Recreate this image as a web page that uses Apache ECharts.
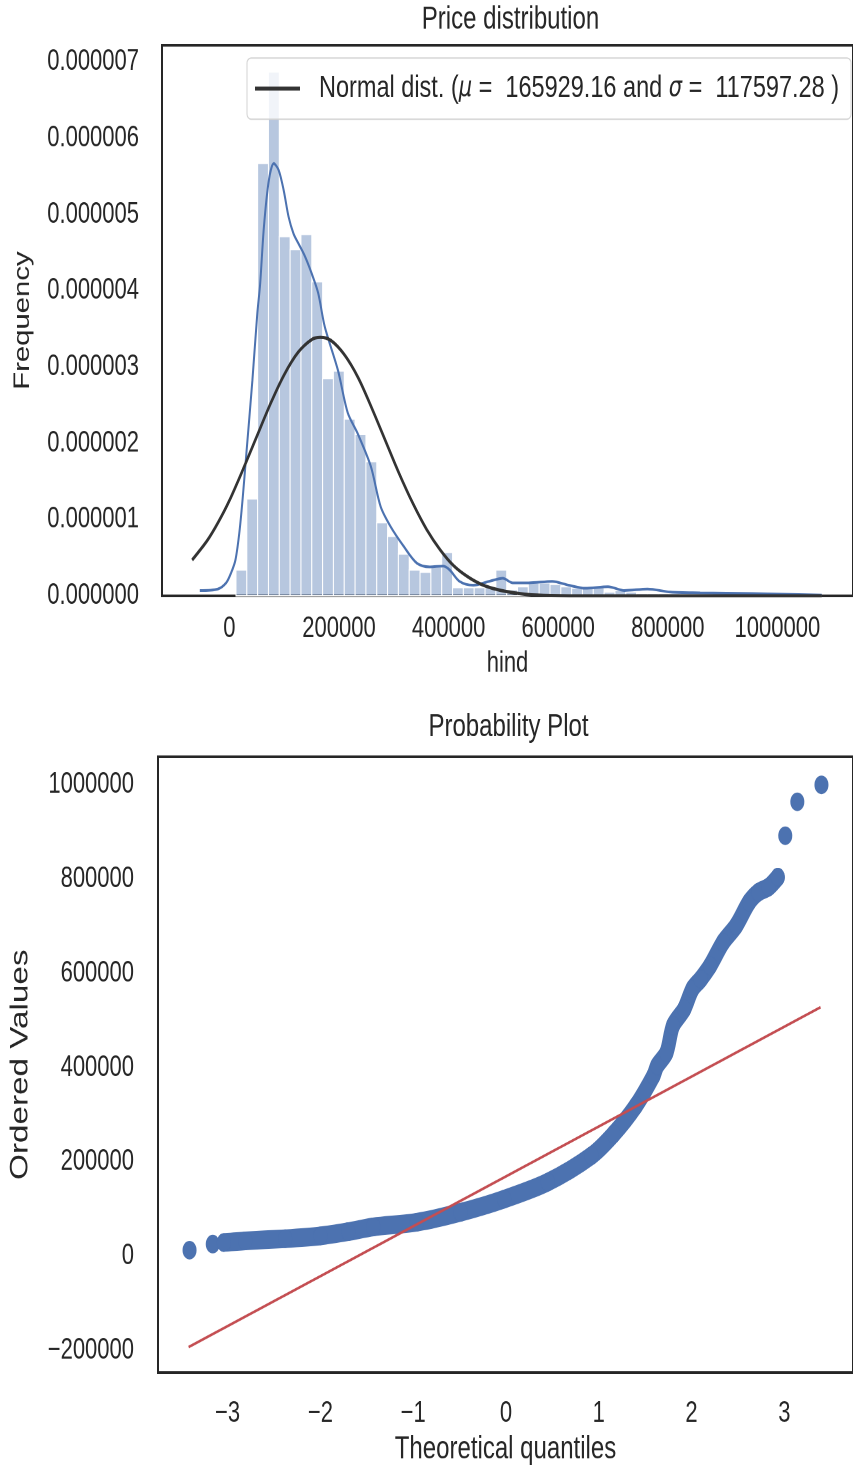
<!DOCTYPE html>
<html><head><meta charset="utf-8">
<style>
html,body{margin:0;padding:0;background:#fff;overflow:hidden;}
#wrap{width:853px;height:1467px;overflow:hidden;}
#chart{width:853px;height:1103px;transform:scaleY(1.33);transform-origin:0 0;}
</style>
<script src="https://cdn.jsdelivr.net/npm/echarts@6/dist/echarts.min.js"></script>
</head><body><div id="wrap"><div id="chart"></div></div>
<script>
// ---------------- data ----------------
const mu = 165929.16;
const sigma = 117597.28;

// histogram (density, x1e-6), 50 bins
const histBinStart = 12000;
const histBinWidth = 19760;
const histDensity = [0.34,1.27,5.67,6.87,4.71,4.54,4.74,4.12,2.85,2.95,
  2.32,2.12,1.76,0.96,0.78,0.55,0.34,0.31,0.38,0.57,
  0.11,0.11,0.11,0.11,0.34,0.08,0.12,0.17,0.17,0.15,
  0.12,0.10,0.10,0.12,0.05,0.07,0.05,0.03,0.03,0.03,
  0.03,0,0,0,0.03,0,0,0,0.03,0.03];

// KDE curve (x, density x1e-6)
const kdeX = [-54000,-21000,-6000,3000,11000,18000,24000,31000,42000,51000,56000,63000,72000,81000,90000,99000,108000,117000,126000,138000,150000,162000,174000,198000,216000,234000,258000,276000,294000,318000,342000,366000,390000,402000,420000,445000,474000,499000,517000,546000,589000,619000,649000,691000,721000,763000,805000,859000,955000,1081000];
const kdeY = [0.07,0.09,0.17,0.30,0.47,0.82,1.26,1.87,2.83,3.71,4.08,4.84,5.45,5.67,5.58,5.32,4.97,4.75,4.62,4.45,4.23,3.97,3.53,2.96,2.40,2.13,1.70,1.17,0.91,0.65,0.43,0.38,0.39,0.34,0.19,0.14,0.19,0.23,0.17,0.17,0.19,0.14,0.10,0.12,0.07,0.09,0.05,0.04,0.03,0.01];

// fitted normal curve (x, density x1e-6)
const normX = [-68000,-40000,-20000,0,25000,50000,75000,100000,125000,150000,166000,185000,210000,235000,260000,285000,310000,335000,360000,385000,410000,435000,460000,490000,520000,560000,620000,700000,850000,1081000];
const normY = [0.47,0.73,0.97,1.25,1.66,2.09,2.52,2.90,3.19,3.36,3.39,3.35,3.16,2.86,2.46,2.03,1.60,1.21,0.87,0.60,0.39,0.25,0.15,0.08,0.04,0.01,0,0,0,0];

const histXTicks = [0,200000,400000,600000,800000,1000000];
const histYTicks = [0,0.000001,0.000002,0.000003,0.000004,0.000005,0.000006,0.000007];

// probability plot
const qqQuantiles = [-3.41,-3.16,-3.04,-2.81,-2.38,-2.0,-1.7,-1.43,-0.96,-0.49,-0.02,0.45,0.92,1.16,1.40,1.59,1.63,1.73,1.80,1.92,2.01,2.10,2.20,2.34,2.48,2.62,2.72,2.83,2.93,3.01,3.14,3.40];
const qqValues = [12700,25500,29000,32500,37000,43000,52000,62000,72000,93000,121000,157000,213000,259000,319000,383000,404000,432000,489000,524000,567000,588000,616000,666000,701000,751000,772000,783000,804000,892000,964000,1000000];
const qqLineX = [-3.42, 3.39];
const qqLineY = [-193000, 528000];
const qqXTicks = [-3,-2,-1,0,1,2,3];
const qqYTicks = [-200000,0,200000,400000,600000,800000,1000000];

// ---------------- chart ----------------
const FONT = "'Liberation Sans', Arial, sans-serif";
const TXT = '#262626';
const BLUE = '#4c72b0';
const minus = v => (v < 0 ? '\u2212' + Math.abs(v) : String(v));

const histData = histDensity.map((d, i) => [histBinStart + i * histBinWidth, histBinStart + (i + 1) * histBinWidth, d * 1e-6]);
const kdeData = kdeX.map((x, i) => [x, kdeY[i] * 1e-6]);
const normData = normX.map((x, i) => [x, normY[i] * 1e-6]);
const qqPts = qqQuantiles.map((q, i) => [q, qqValues[i]]);
const qqBand = qqPts.filter(p => p[0] >= -3.05 && p[0] <= 2.95);
const qqLine = qqLineX.map((x, i) => [x, qqLineY[i]]);

const chart = echarts.init(document.getElementById('chart'), null, {renderer: 'canvas', devicePixelRatio: 2});

const axisCommon = {
  axisLine: {show: false}, axisTick: {show: false}, splitLine: {show: false},
  nameTextStyle: {fontFamily: FONT, fontSize: 22, color: TXT}
};

chart.setOption({
  animation: false,
  backgroundColor: '#fff',
  textStyle: {fontFamily: FONT},
  title: [
    {text: 'Price distribution', left: 510.5, top: 3, textAlign: 'center', padding: 0,
     textStyle: {fontFamily: FONT, fontSize: 24, fontWeight: 'normal', color: TXT}},
    {text: 'Probability Plot', left: 508.5, top: 535, textAlign: 'center', padding: 0,
     textStyle: {fontFamily: FONT, fontSize: 24, fontWeight: 'normal', color: TXT}}
  ],
  legend: {
    data: [{name: 'normal', icon: 'rect'}],
    left: 247, top: 43.6,
    orient: 'horizontal',
    padding: [11, 12, 11, 8],
    itemWidth: 45, itemHeight: 3,
    itemStyle: {color: '#333333', borderWidth: 0},
    backgroundColor: 'rgba(255,255,255,0.8)',
    borderColor: '#d3d3d3', borderWidth: 1, borderRadius: 4,
    formatter: () => `{s|}Normal dist. ({m|\u03bc} =  ${mu.toFixed(2)} and {m|\u03c3} =  ${sigma.toFixed(2)} )`,
    textStyle: {fontFamily: FONT, fontSize: 23.5, color: TXT,
      rich: {s: {width: 14}, m: {fontFamily: "'DejaVu Sans', sans-serif", fontStyle: 'italic', fontSize: 21, color: TXT}}}
  },
  grid: [
    {left: 162, top: 34, height: 414, right: -6, show: true, borderColor: '#262626', borderWidth: 2, backgroundColor: 'transparent'},
    {left: 155, top: 569, height: 463, right: -9, show: true, borderColor: '#262626', borderWidth: 2, backgroundColor: 'transparent'}
  ],
  xAxis: [
    Object.assign({}, axisCommon, {type: 'value', gridIndex: 0, min: -123000, max: 1138000,
      name: 'hind', nameLocation: 'middle', nameGap: 40,
      axisLabel: {customValues: histXTicks, margin: 14, fontSize: 22, color: TXT, fontFamily: FONT, formatter: v => String(v)}}),
    Object.assign({}, axisCommon, {type: 'value', gridIndex: 1, min: -3.75, max: 3.74,
      name: 'Theoretical quantiles', nameLocation: 'middle', nameGap: 46,
      nameTextStyle: {fontFamily: FONT, fontSize: 24, color: TXT},
      axisLabel: {customValues: qqXTicks, margin: 20, fontSize: 22, color: TXT, fontFamily: FONT, formatter: minus}})
  ],
  yAxis: [
    Object.assign({}, axisCommon, {type: 'value', gridIndex: 0, min: 0, max: 7.22e-6,
      name: 'Frequency', nameLocation: 'middle', nameGap: 128,
      axisLabel: {customValues: histYTicks, margin: 23, fontSize: 22, color: TXT, fontFamily: FONT, formatter: v => v.toFixed(6)}}),
    Object.assign({}, axisCommon, {type: 'value', gridIndex: 1, min: -247000, max: 1059500,
      name: 'Ordered Values', nameLocation: 'middle', nameGap: 125,
      nameTextStyle: {fontFamily: FONT, fontSize: 25, color: TXT},
      axisLabel: {customValues: qqYTicks, margin: 24, fontSize: 22, color: TXT, fontFamily: FONT, formatter: minus}})
  ],
  series: [
    {
      type: 'custom', name: 'hist', xAxisIndex: 0, yAxisIndex: 0, z: 1,
      data: histData,
      encode: {x: [0, 1], y: 2},
      renderItem: (params, api) => {
        const p0 = api.coord([api.value(0), api.value(2)]);
        const p1 = api.coord([api.value(1), 0]);
        return {type: 'rect', shape: {x: p0[0], y: p0[1], width: p1[0] - p0[0], height: p1[1] - p0[1]},
          style: {fill: 'rgba(76,114,176,0.4)', stroke: '#ffffff', lineWidth: 1}};
      }
    },
    {
      type: 'line', name: 'kde', xAxisIndex: 0, yAxisIndex: 0, z: 3,
      data: kdeData, symbol: 'none', smooth: 0.3,
      lineStyle: {color: BLUE, width: 2}
    },
    {
      type: 'line', name: 'normal', xAxisIndex: 0, yAxisIndex: 0, z: 4,
      data: normData, symbol: 'none', smooth: 0.3,
      itemStyle: {color: '#333333'},
      lineStyle: {color: '#333333', width: 2.5}
    },
    {
      type: 'line', name: 'qqband', xAxisIndex: 1, yAxisIndex: 1, z: 2,
      data: qqBand, symbol: 'none', smooth: 0.3,
      lineStyle: {color: BLUE, width: 14, cap: 'round', join: 'round'}
    },
    {
      type: 'scatter', name: 'qq', xAxisIndex: 1, yAxisIndex: 1, z: 2,
      data: qqPts, symbol: 'circle', symbolSize: 14,
      itemStyle: {color: BLUE, opacity: 1}
    },
    {
      type: 'line', name: 'qqfit', xAxisIndex: 1, yAxisIndex: 1, z: 5,
      data: qqLine, symbol: 'none',
      lineStyle: {color: '#c44e52', width: 2}
    }
  ]
});
</script></body></html>
